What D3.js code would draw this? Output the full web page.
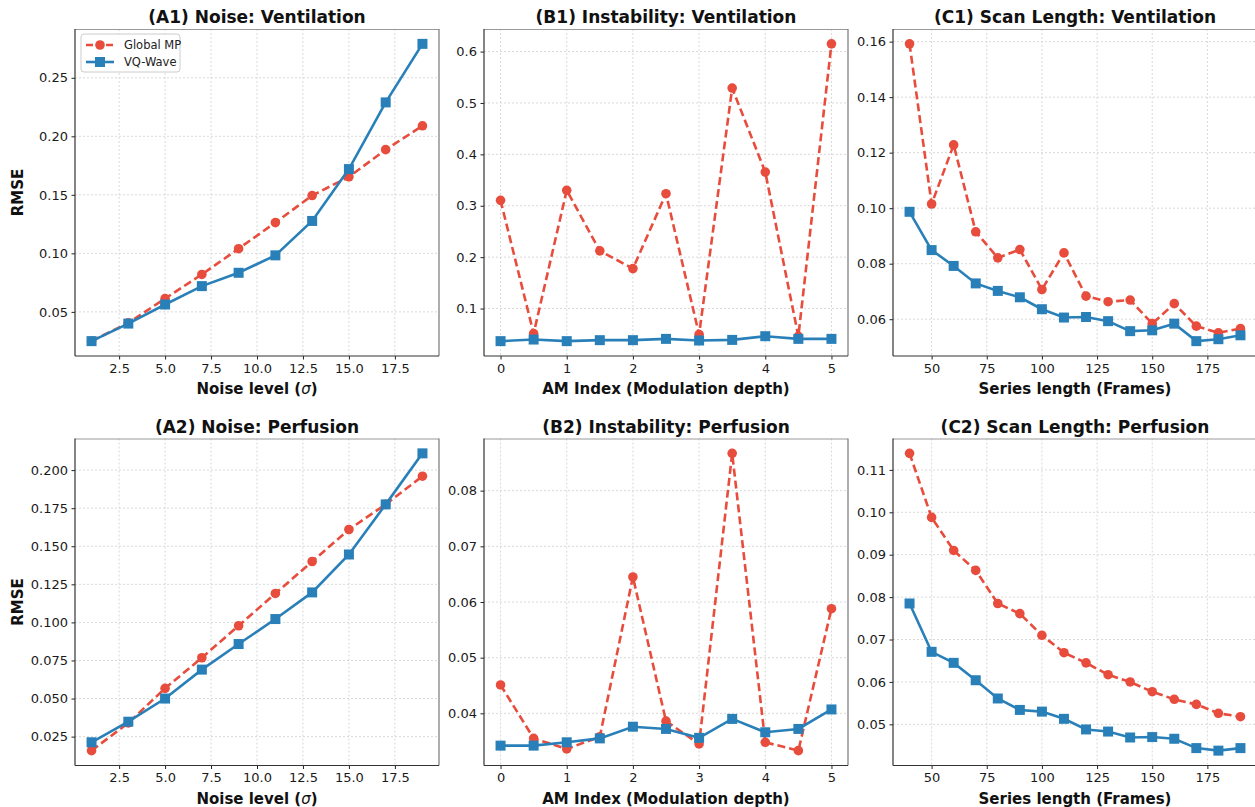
<!DOCTYPE html>
<html>
<head>
<meta charset="utf-8">
<script src="https://cdn.jsdelivr.net/npm/d3@7"></script>
<style>
  body { margin: 0; background: #fff; }
  svg { font-family: "DejaVu Sans", sans-serif; }
  .grid line { stroke: #d9d9d9; stroke-dasharray: 2,2; }
</style>
</head>
<body>
<svg id="chart" width="1255" height="807"></svg>
<script>
// x values
var noiseLevels = [1, 3, 5, 7, 9, 11, 13, 15, 17, 19];
var amIndex = [0, 0.5, 1, 1.5, 2, 2.5, 3, 3.5, 4, 4.5, 5];
var seriesLengths = [40, 50, 60, 70, 80, 90, 100, 110, 120, 130, 140, 150, 160, 170, 180, 190];

// RMSE values
var ventNoiseMP = [0.0251, 0.0406, 0.0614, 0.082, 0.104, 0.1263, 0.1494, 0.1654, 0.1886, 0.209];
var ventNoiseVQ = [0.025, 0.040, 0.0563, 0.072, 0.0834, 0.0983, 0.1277, 0.172, 0.229, 0.279];
var perfNoiseMP = [0.0158, 0.034, 0.0567, 0.0768, 0.0978, 0.119, 0.140, 0.161, 0.1775, 0.196];
var perfNoiseVQ = [0.0213, 0.0348, 0.050, 0.069, 0.0858, 0.1022, 0.1197, 0.1446, 0.1775, 0.211];

var ventAmMP = [0.3105, 0.0514, 0.330, 0.2123, 0.1777, 0.3235, 0.0495, 0.529, 0.3655, 0.046, 0.615];
var ventAmVQ = [0.0366, 0.0397, 0.0366, 0.0385, 0.0385, 0.041, 0.0378, 0.039, 0.0462, 0.041, 0.041];
var perfAmMP = [0.0451, 0.0355, 0.0336, 0.0358, 0.0645, 0.0386, 0.0345, 0.0867, 0.0348, 0.0333, 0.0588];
var perfAmVQ = [0.0342, 0.0342, 0.0348, 0.0355, 0.0376, 0.0372, 0.0356, 0.039, 0.0366, 0.0372, 0.0407];

var ventLenMP = [0.1592, 0.1015, 0.1228, 0.0915, 0.0821, 0.0851, 0.0707, 0.0839, 0.0683, 0.0663, 0.0669, 0.0584, 0.0656, 0.0575, 0.0551, 0.0566];
var ventLenVQ = [0.0987, 0.0849, 0.0792, 0.0729, 0.0702, 0.0679, 0.0636, 0.0606, 0.0608, 0.0593, 0.0557, 0.056, 0.0584, 0.0521, 0.0528, 0.0542];
var perfLenMP = [0.1139, 0.0988, 0.091, 0.0863, 0.0785, 0.0761, 0.071, 0.0669, 0.0645, 0.0617, 0.060, 0.0577, 0.0559, 0.0547, 0.0526, 0.0518];
var perfLenVQ = [0.0785, 0.0671, 0.0645, 0.0604, 0.0561, 0.0534, 0.053, 0.0513, 0.0488, 0.0483, 0.0469, 0.047, 0.0466, 0.0444, 0.0438, 0.0444];

// tick labels
var noiseTicks = [2.5, 5, 7.5, 10, 12.5, 15, 17.5];
var amTicks = [0, 1, 2, 3, 4, 5];
var lenTicks = [50, 75, 100, 125, 150, 175];
var ventNoiseYTicks = [0.05, 0.10, 0.15, 0.20, 0.25];
var perfNoiseYTicks = [0.025, 0.05, 0.075, 0.1, 0.125, 0.15, 0.175, 0.2];
var ventAmYTicks = [0.1, 0.2, 0.3, 0.4, 0.5, 0.6];
var perfAmYTicks = [0.04, 0.05, 0.06, 0.07, 0.08];
var ventLenYTicks = [0.06, 0.08, 0.10, 0.12, 0.14, 0.16];
var perfLenYTicks = [0.05, 0.06, 0.07, 0.08, 0.09, 0.10, 0.11];

var RED = '#e74c3c';
var BLUE = '#2980b9';

var panels = [
  { title: '(A1) Noise: Ventilation', col: 0, row: 0, x: noiseLevels, mp: ventNoiseMP, vq: ventNoiseVQ,
    xTicks: noiseTicks, xFmt: '.1f', yTicks: ventNoiseYTicks, yFmt: '.2f', xlabel: 'noise', ylabel: true, legend: true },
  { title: '(B1) Instability: Ventilation', col: 1, row: 0, x: amIndex, mp: ventAmMP, vq: ventAmVQ,
    xTicks: amTicks, xFmt: 'd', yTicks: ventAmYTicks, yFmt: '.1f', xlabel: 'AM Index (Modulation depth)' },
  { title: '(C1) Scan Length: Ventilation', col: 2, row: 0, x: seriesLengths, mp: ventLenMP, vq: ventLenVQ,
    xTicks: lenTicks, xFmt: 'd', yTicks: ventLenYTicks, yFmt: '.2f', xlabel: 'Series length (Frames)' },
  { title: '(A2) Noise: Perfusion', col: 0, row: 1, x: noiseLevels, mp: perfNoiseMP, vq: perfNoiseVQ,
    xTicks: noiseTicks, xFmt: '.1f', yTicks: perfNoiseYTicks, yFmt: '.3f', xlabel: 'noise', ylabel: true },
  { title: '(B2) Instability: Perfusion', col: 1, row: 1, x: amIndex, mp: perfAmMP, vq: perfAmVQ,
    xTicks: amTicks, xFmt: 'd', yTicks: perfAmYTicks, yFmt: '.2f', xlabel: 'AM Index (Modulation depth)' },
  { title: '(C2) Scan Length: Perfusion', col: 2, row: 1, x: seriesLengths, mp: perfLenMP, vq: perfLenVQ,
    xTicks: lenTicks, xFmt: 'd', yTicks: perfLenYTicks, yFmt: '.2f', xlabel: 'Series length (Frames)' }
];

var colLeft = [75, 484, 893];
var rowTop = [29, 438.5];
var plotW = 364, plotH = 327;

var svg = d3.select('#chart');

// matplotlib-like 5% margins
function padded(vals) {
  var ext = d3.extent(vals);
  var pad = (ext[1] - ext[0]) * 0.05;
  return [ext[0] - pad, ext[1] + pad];
}

panels.forEach(function (p) {
  var g = svg.append('g')
    .attr('transform', 'translate(' + colLeft[p.col] + ',' + rowTop[p.row] + ')');

  var x = d3.scaleLinear().domain(padded(p.x)).range([0, plotW]);
  var y = d3.scaleLinear().domain(padded(p.mp.concat(p.vq))).range([plotH, 0]);

  // grid
  g.append('g').attr('class', 'grid')
    .selectAll('line').data(p.xTicks).enter().append('line')
    .attr('x1', function (d) { return x(d); }).attr('x2', function (d) { return x(d); })
    .attr('y1', 0).attr('y2', plotH);
  g.append('g').attr('class', 'grid')
    .selectAll('line').data(p.yTicks).enter().append('line')
    .attr('y1', function (d) { return y(d); }).attr('y2', function (d) { return y(d); })
    .attr('x1', 0).attr('x2', plotW);

  // axes
  var xAxis = g.append('g').attr('transform', 'translate(0,' + plotH + ')')
    .call(d3.axisBottom(x).tickValues(p.xTicks).tickFormat(d3.format(p.xFmt)).tickSize(3.5).tickPadding(4));
  var yAxis = g.append('g')
    .call(d3.axisLeft(y).tickValues(p.yTicks).tickFormat(d3.format(p.yFmt)).tickSize(3.5).tickPadding(3.5));
  [xAxis, yAxis].forEach(function (a) {
    a.attr('font-size', 13).attr('font-family', 'DejaVu Sans');
    a.select('.domain').remove();
    a.selectAll('.tick line').attr('stroke', '#222');
    a.selectAll('.tick text').attr('fill', '#1a1a1a');
  });

  // spines
  g.append('line').attr('x1', 0).attr('x2', plotW).attr('y1', 0.5).attr('y2', 0.5)
    .attr('stroke', '#999').attr('stroke-width', 1);
  g.append('line').attr('x1', plotW).attr('x2', plotW).attr('y1', 0).attr('y2', plotH)
    .attr('stroke', '#777').attr('stroke-width', 1.2);
  g.append('line').attr('x1', 0).attr('x2', 0).attr('y1', 0).attr('y2', plotH)
    .attr('stroke', '#333').attr('stroke-width', 1.2);
  g.append('line').attr('x1', 0).attr('x2', plotW).attr('y1', plotH).attr('y2', plotH)
    .attr('stroke', '#333').attr('stroke-width', 1.2);

  var plot = g.append('g');
  var line = d3.line()
    .x(function (d, i) { return x(p.x[i]); })
    .y(function (d) { return y(d); });

  // Global MP
  plot.append('path').datum(p.mp)
    .attr('d', line).attr('fill', 'none')
    .attr('stroke', RED).attr('stroke-width', 2.6).attr('stroke-dasharray', '8,4');
  plot.selectAll('circle').data(p.mp).enter().append('circle')
    .attr('cx', function (d, i) { return x(p.x[i]); })
    .attr('cy', function (d) { return y(d); })
    .attr('r', 4.8).attr('fill', RED);

  // VQ-Wave
  plot.append('path').datum(p.vq)
    .attr('d', line).attr('fill', 'none')
    .attr('stroke', BLUE).attr('stroke-width', 2.6);
  plot.selectAll('rect').data(p.vq).enter().append('rect')
    .attr('x', function (d, i) { return x(p.x[i]) - 5; })
    .attr('y', function (d) { return y(d) - 5; })
    .attr('width', 10).attr('height', 10).attr('fill', BLUE);

  // title
  g.append('text')
    .attr('x', plotW / 2).attr('y', -6)
    .attr('text-anchor', 'middle')
    .attr('font-size', 17).attr('font-weight', 'bold').attr('fill', '#111')
    .text(p.title);

  // x label
  var xl = g.append('text')
    .attr('x', plotW / 2).attr('y', plotH + 38)
    .attr('text-anchor', 'middle')
    .attr('font-size', 15).attr('font-weight', 'bold').attr('fill', '#111');
  if (p.xlabel === 'noise') {
    xl.append('tspan').text('Noise level (');
    xl.append('tspan').attr('font-style', 'italic').attr('font-weight', 'normal').text('σ');
    xl.append('tspan').text(')');
  } else {
    xl.text(p.xlabel);
  }

  if (p.ylabel) {
    g.append('text')
      .attr('transform', 'translate(-52,' + plotH / 2 + ') rotate(-90)')
      .attr('text-anchor', 'middle')
      .attr('font-size', 15).attr('font-weight', 'bold').attr('fill', '#111')
      .text('RMSE');
  }

  if (p.legend) {
    var lg = g.append('g').attr('transform', 'translate(6,5)');
    lg.append('rect').attr('width', 99).attr('height', 38).attr('rx', 3)
      .attr('fill', '#fff').attr('fill-opacity', 0.85).attr('stroke', '#ccc');
    var items = [
      { name: 'Global MP', color: RED, dash: '7,3', marker: 'circle' },
      { name: 'VQ-Wave', color: BLUE, dash: null, marker: 'square' }
    ];
    items.forEach(function (it, i) {
      var yy = 11 + i * 17;
      lg.append('line').attr('x1', 5).attr('x2', 33).attr('y1', yy).attr('y2', yy)
        .attr('stroke', it.color).attr('stroke-width', 2.6)
        .attr('stroke-dasharray', it.dash);
      if (it.marker === 'circle') {
        lg.append('circle').attr('cx', 19).attr('cy', yy).attr('r', 4.8).attr('fill', it.color);
      } else {
        lg.append('rect').attr('x', 14).attr('y', yy - 5).attr('width', 10).attr('height', 10).attr('fill', it.color);
      }
      lg.append('text').attr('x', 43).attr('y', yy + 4)
        .attr('font-size', 11.5).attr('fill', '#222').text(it.name);
    });
  }
});
</script>
</body>
</html>
